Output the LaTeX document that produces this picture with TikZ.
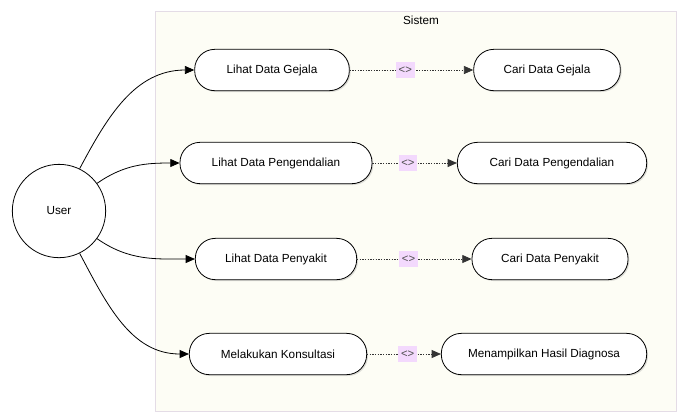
\documentclass[tikz,border=0pt]{standalone}
\usepackage{fontspec}
\setmainfont{Liberation Sans}
\usetikzlibrary{arrows.meta, shadows}
\definecolor{SysFill}{HTML}{FDFDF5}
\definecolor{SysLine}{HTML}{E4DCE6}
\definecolor{StereoFill}{HTML}{F3D9FD}

\begin{document}
\begin{tikzpicture}[
        x=0.75pt, y=-0.75pt,
        usecase/.style={rectangle, draw=black, fill=white, line width=0.6pt, rounded corners=15pt, minimum height=31pt, align=center, font=\fontsize{8.8}{10}\selectfont, drop shadow={shadow xshift=1pt, shadow yshift=-1pt, opacity=0.25}},
        actor/.style={circle, draw=black, fill=white, line width=0.6pt, minimum size=70pt, font=\fontsize{8.8}{10}\selectfont},
        assoc/.style={-{Triangle[length=7pt, width=6pt]}, line width=0.6pt, black},
        incl/.style={-{Triangle[length=7pt, width=6pt]}, black!80, line width=0.6pt, dash pattern=on 1pt off 1pt},
        stereo/.style={fill=StereoFill, inner sep=2pt, minimum size=12pt, font=\fontsize{8.5}{9}\selectfont, text=black!70}
      ]
        \useasboundingbox (0,0) rectangle (677,412);
        % system boundary
        \draw[draw=SysLine, fill=SysFill] (155,11) rectangle (676,411);
        \node[font=\fontsize{8.8}{10}\selectfont] (sistem) at (421,20) {Sistem};

        \node[actor] (user) at (59,211) {User};

        \node[usecase, minimum width=116pt] (lgejala) at (272,70) {Lihat Data Gejala};
        \node[usecase, minimum width=110pt] (cgejala) at (547,70) {Cari Data Gejala};
        \node[usecase, minimum width=144pt] (lkendali) at (276,163) {Lihat Data Pengendalian};
        \node[usecase, minimum width=142pt] (ckendali) at (552,163) {Cari Data Pengendalian};
        \node[usecase, minimum width=121pt] (lpenyakit) at (276,259) {Lihat Data Penyakit};
        \node[usecase, minimum width=117pt] (cpenyakit) at (550,259) {Cari Data Penyakit};
        \node[usecase, minimum width=133pt] (konsul) at (278,354) {Melakukan Konsultasi};
        \node[usecase, minimum width=154pt] (hasil) at (544,354) {Menampilkan Hasil Diagnosa};

        \draw[assoc] (user.64) to[out=62, in=180] (lgejala.west);
        \draw[assoc] (user.36) to[out=35, in=180] (lkendali.west);
        \draw[assoc] (user.-36) to[out=-35, in=180] (lpenyakit.west);
        \draw[assoc] (user.-64) to[out=-62, in=180] (konsul.west);

        \draw[incl] (lgejala) -- node[stereo, pos=0.45] (s1) {<>} (cgejala);
        \draw[incl] (lkendali) -- node[stereo, pos=0.42] (s2) {<>} (ckendali);
        \draw[incl] (lpenyakit) -- node[stereo, pos=0.45] (s3) {<>} (cpenyakit);
        \draw[incl] (konsul) -- node[stereo, pos=0.55] (s4) {<>} (hasil);
      \end{tikzpicture}
\end{document}
